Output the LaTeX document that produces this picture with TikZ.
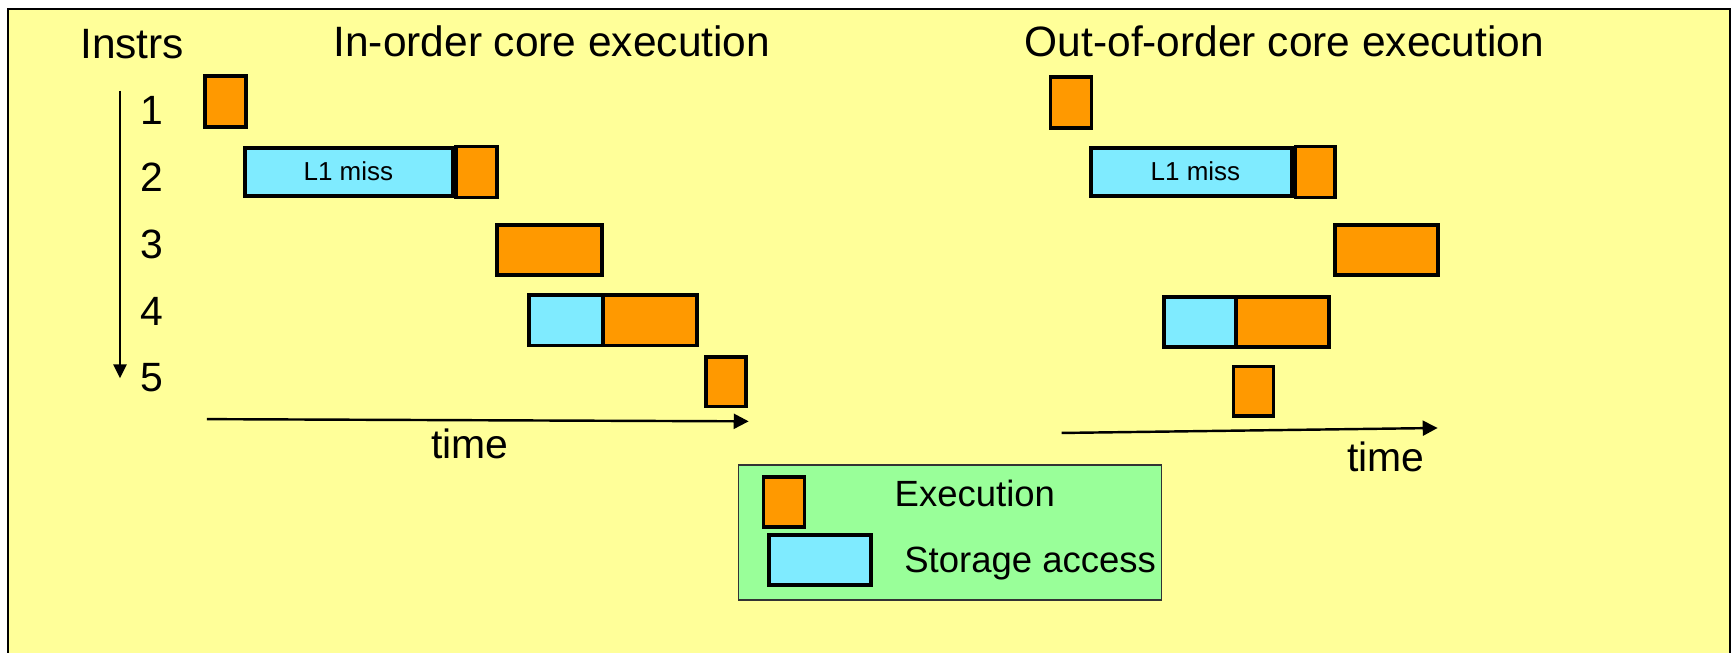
\documentclass[tikz,border=0pt]{standalone}
\usepackage{fontspec}
\setmainfont{Liberation Sans}
\usetikzlibrary{arrows.meta}
\definecolor{bgyellow}{HTML}{FFFF99}
\definecolor{exeorange}{HTML}{FF9900}
\definecolor{memcyan}{HTML}{7FEBFF}
\definecolor{leggreen}{HTML}{99FF99}
\newcommand{\fsz}[1]{\fontsize{#1}{#1}\selectfont}
\tikzset{
  box/.style={draw=black, line width=3.4pt, inner sep=0pt, outer sep=0pt},
  exebox/.style={box, fill=exeorange},
  membox/.style={box, fill=memcyan},
  bigtxt/.style={inner sep=0pt, anchor=base, font=\fsz{38.4}},
  numtxt/.style={inner sep=0pt, anchor=base, font=\fsz{37}},
  smalltxt/.style={inner sep=0pt, anchor=base, font=\fsz{23.5}},
  legtxt/.style={inner sep=0pt, anchor=base, font=\fsz{33}},
  timearrow/.style={line width=2.2pt, -{Triangle[length=13.5pt, width=13.5pt]}},
  vertarrow/.style={line width=1.8pt, -{Triangle[length=12.5pt, width=12pt]}},
}
\begin{document}
\begin{tikzpicture}[x=1pt, y=-1pt]
\useasboundingbox (0,0) rectangle (1568,590);
\clip (0,0) rectangle (1568,590);
\fill[white] (0,0) rectangle (1568,590);
\draw[line width=1.5pt, fill=bgyellow] (7,8) rectangle (1564.5,620);

% titles
\node[bigtxt] (instrs) at (119.5,52.5) {Instrs};
\node[bigtxt] (titleA) at (499,51.5) {In-order core execution};
\node[bigtxt] (titleB) at (1161.5,51.5) {Out-of-order core execution};

% instruction numbers
\node[numtxt] (n1) at (137,113) {1};
\node[numtxt] (n2) at (137,173.5) {2};
\node[numtxt] (n3) at (137,234) {3};
\node[numtxt] (n4) at (137,294) {4};
\node[numtxt] (n5) at (137,354) {5};

% vertical arrow
\coordinate (vs) at (108.5,82);
\coordinate (ve) at (108.5,342);
\draw[vertarrow] (vs) -- (ve);

% in-order boxes
\node[exebox, minimum width=37pt, minimum height=46pt] (i1) at (204,91.5) {};
\node[membox, minimum width=188pt, minimum height=43pt] (i2m) at (315.5,155.5) {};
\node[smalltxt] (i2t) at (315,163) {L1 miss};
\node[exebox, minimum width=37pt, minimum height=46pt] (i2e) at (431,155.5) {};
\node[exebox, minimum width=95pt, minimum height=45pt] (i3) at (497,226) {};
\node[membox, minimum width=67pt, minimum height=46pt] (i4m) at (512,289.5) {};
\node[exebox, minimum width=85pt, minimum height=46pt] (i4e) at (588,289.5) {};
\node[exebox, minimum width=36pt, minimum height=45pt] (i5) at (656.5,345) {};

% in-order time axis
\coordinate (ta1) at (187,379);
\coordinate (ta2) at (677,381);
\draw[timearrow] (ta1) -- (ta2);
\node[numtxt] (timeA) at (425,414.5) {time};

% out-of-order boxes
\node[exebox, minimum width=37pt, minimum height=46pt] (o1) at (968.5,92.5) {};
\node[membox, minimum width=182pt, minimum height=43pt] (o2m) at (1077.5,155.5) {};
\node[smalltxt] (o2t) at (1081,163) {L1 miss};
\node[exebox, minimum width=36pt, minimum height=46pt] (o2e) at (1189.5,155.5) {};
\node[exebox, minimum width=93pt, minimum height=45pt] (o3) at (1254,226) {};
\node[membox, minimum width=65pt, minimum height=45pt] (o4m) at (1085,291) {};
\node[exebox, minimum width=84pt, minimum height=45pt] (o4e) at (1159.5,291) {};
\node[exebox, minimum width=36pt, minimum height=45pt] (o5) at (1133.5,354) {};

% out-of-order time axis
\coordinate (tb1) at (960,391.5);
\coordinate (tb2) at (1300,387);
\draw[timearrow] (tb1) -- (tb2);
\node[numtxt] (timeB) at (1253,426.5) {time};

% legend
\node[draw=black!80, line width=1.2pt, fill=leggreen, inner sep=0pt, minimum width=382.5pt, minimum height=122pt] (legend) at (858.75,481.5) {};
\node[exebox, minimum width=37pt, minimum height=45.5pt] (lexe) at (709,453.75) {};
\node[membox, minimum width=92pt, minimum height=45.5pt] (lmem) at (741.5,506.25) {};
\node[legtxt] (lexet) at (881.5,458) {Execution};
\node[legtxt] (lmemt) at (931.5,518) {Storage access};
\end{tikzpicture}
\end{document}
